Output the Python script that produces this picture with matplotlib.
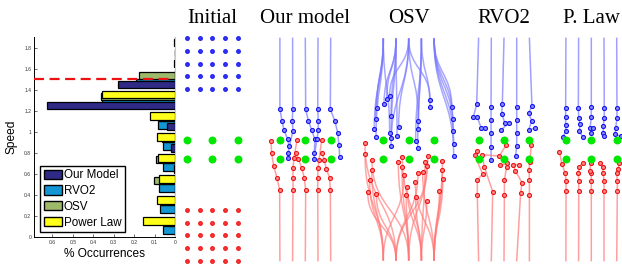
import matplotlib
matplotlib.use("Agg")
import matplotlib.pyplot as plt
from matplotlib.patches import Patch, PathPatch
from matplotlib.path import Path
import numpy as np

# ---------------- histogram data (speed bins, fraction of occurrences) ----------------
speed_bins = [0.1, 0.3, 0.5, 0.7, 0.9, 1.1, 1.3, 1.5, 1.7, 1.9]
our_model = [0.0, 0.0, 0.0, 0.006, 0.02, 0.04, 0.624, 0.278, 0.005, 0.004]
rvo2 = [0.059, 0.072, 0.08, 0.057, 0.06, 0.085, 0.356, 0.19, 0.0, 0.0]
osv = [0.033, 0.07, 0.101, 0.092, 0.066, 0.072, 0.363, 0.175, 0.0, 0.0]
power_law = [0.155, 0.088, 0.078, 0.085, 0.089, 0.12, 0.357, 0.0, 0.0, 0.0]
series_names = ["Our Model", "RVO2", "OSV", "Power Law"]
preferred_speed = 1.5
xtick_vals = [0, 0.1, 0.2, 0.3, 0.4, 0.5, 0.6]
xtick_labels = ["0", "0.1", "0.2", "0.3", "0.4", "0.5", "0.6"]
ytick_vals = [0, 0.2, 0.4, 0.6, 0.8, 1.0, 1.2, 1.4, 1.6, 1.8]
ytick_labels = ["0", "0.2", "0.4", "0.6", "0.8", "1", "1.2", "1.4", "1.6", "1.8"]

# ---------------- crowd scenes (world units, 1 = lane spacing) ----------------
panel_titles = ["Initial", "Our model", "OSV", "RVO2", "P. Law"]
lane_x = [-2, -1, 0, 1, 2]
start_rows = [4.75, 5.75, 6.75, 7.75, 8.75]
start_y = 8.75
obstacle_x = [-2, 0, 2]
obstacle_y = [0.75, -0.75]

# our model: per lane, agents from rear to front
ours_blue_x = [[-2.0, -1.84, -1.68, -1.39, -1.28],
               [-0.99, -1.02, -0.97, -1.36, -1.36],
               [0.03, 0.24, 0.5, 0.76, 0.71],
               [0.98, 1.02, 1.02, 0.92, 0.66],
               [1.97, 2.34, 2.55, 2.65, 2.71]]
ours_blue_y = [[3.19, 2.27, 1.54, 0.80, 0.30],
               [3.19, 2.22, 1.48, -0.25, -0.67],
               [3.17, 2.27, 1.54, 0.80, -0.25],
               [3.17, 2.27, 1.54, 0.80, -0.77],
               [3.17, 2.22, 1.32, 0.38, -0.61]]
ours_red_x = [[-2.02, -2.23, -2.49, -2.65, -2.7],
              [-0.97, -0.97, -0.97, -0.89, -0.65],
              [0.03, -0.08, -0.28, -0.55, -0.73],
              [0.98, 0.98, 1.0, 1.08, 1.29],
              [1.97, 1.92, 1.65, 1.50, 1.31]]
ours_red_y = [[-3.19, -2.24, -1.30, -0.30, 0.65],
              [-3.19, -2.24, -1.46, -0.67, 0.75],
              [-3.19, -2.24, -1.46, -0.72, -0.28],
              [-3.19, -2.24, -1.46, -0.83, 0.75],
              [-3.19, -2.24, -1.51, -0.83, -0.28]]

# RVO2
rvo_blue_x = [[-2.15, -2.42, -2.1, -1.79, -1.47],
              [-1.02, -1.02, -1.02, -1.02, -1.02],
              [-0.13, -0.18, 0.06, 0.37, -0.21],
              [1.0, 1.0, 1.0, 1.0, 0.92],
              [2.2, 1.94, 2.18, 1.94, 2.46]]
rvo_blue_y = [[3.56, 2.54, 2.54, 1.69, 1.69],
              [3.37, 2.32, 1.28, 0.22, -0.83],
              [3.61, 2.80, 2.11, 2.11, 1.54],
              [3.37, 2.32, 1.28, 0.28, -0.51],
              [3.43, 2.85, 2.27, 1.54, 1.69]]
rvo_red_x = [[-2.1, -2.1, -1.68, -2.31, -2.1],
             [-0.89, -1.55, -1.73, -0.37, 0.16],
             [0.03, 0.03, 0.21, 0.26, -0.3],
             [1.31, 1.42, 0.89, 0.74, 1.17],
             [2.0, 2.0, 1.97, 2.02, 2.15]]
rvo_red_y = [[-3.58, -2.40, -1.93, -0.46, -0.09],
             [-3.32, -1.35, -0.41, -0.51, 0.33],
             [-3.58, -2.40, -1.40, -1.09, -1.25],
             [-3.40, -2.61, -1.67, -1.20, -1.20],
             [-3.58, -2.40, -1.61, -1.02, 0.33]]

# P. Law
plaw_blue_x = [[-2.02, -2.02, -2.02, -1.99, -2.25],
               [-1.02, -0.99, -0.89, -0.94, -0.68],
               [0.0, 0.0, -0.1, 0.11, 0.0],
               [1.02, 1.02, 0.94, 0.94, 1.0],
               [2.02, 2.02, 1.92, 1.88, 2.3]]
plaw_blue_y = [[3.29, 2.54, 1.91, 1.43, 1.01],
               [3.27, 2.48, 2.0, 1.43, 1.01],
               [3.31, 2.52, 1.69, 1.69, 1.28],
               [3.29, 2.48, 1.85, 1.28, 1.06],
               [3.29, 2.46, 1.67, 1.2, 1.06]]
plaw_red_x = [[-1.99, -1.99, -2.05, -2.31, -2.51],
              [-0.99, -0.99, -1.02, -0.94, -0.68],
              [0.0, 0.0, 0.0, -0.1, -0.05],
              [1.0, 1.0, 0.94, 0.89, 0.69],
              [2.05, 2.05, 2.0, 2.1, 2.22]]
plaw_red_y = [[-3.29, -2.50, -1.87, -1.14, -0.20],
              [-3.29, -2.50, -1.87, -1.35, -1.04],
              [-3.29, -2.50, -1.87, -1.67, -1.04],
              [-3.29, -2.50, -1.83, -1.35, -1.04],
              [-3.29, -2.50, -1.87, -1.5, -1.09]]

# OSV: free trajectories, final position + lane the agent started in
osv_blue_x = [-2.50, -2.60, -2.71, -2.57, -1.94, -1.73, -1.50, -1.39, -1.50, -1.39, -1.39, -0.79,
              -0.92, 0.76, 0.76, 0.55, 0.71, 1.68, 1.68, 3.39, 3.46, 3.51, 3.54, 3.54]
osv_blue_y = [3.29, 2.40, 1.61, 1.01, 3.58, 3.95, 4.24, 2.66, 1.32, 0.88, 0.28, 1.75,
              1.06, 2.27, 1.59, 0.67, 0.09, 3.90, 3.37, 3.32, 2.38, 1.48, 0.43, -0.51]
osv_blue_lane = [-2, -2, -2, -2, -1, -1, 0, -1, -2, -1, 0, 0,
                 -1, 0, 1, 1, 1, 0, 1, 2, 2, 2, 2, 2]
osv_red_x = [-3.44, -2.91, -3.07, -3.23, -2.55, -2.89, -3.44, -0.50, -0.82, -0.53, -0.37, -0.11,
             -0.19, 0.55, 0.52, 0.73, 1.10, 1.28, 1.50, 1.42, 1.42, 2.65, 2.65, 2.68, 2.41]
osv_red_y = [-0.35, -1.61, -2.40, -3.32, -3.50, -0.83, 0.49, -0.57, -0.96, -1.40, -1.98, -2.98,
             -3.58, -3.76, -2.56, -1.87, -1.77, -0.96, -0.51, -1.30, -4.08, -0.88, -1.61, -2.35, -3.24]
osv_red_lane = [-2, -2, -2, -1, -1, 0, -1, 1, 0, 0, -2, 1,
                0, 1, 2, -1, 2, 1, 0, -1, 1, 2, 2, 2, 2]

# ---------------- styles ----------------
hist_colors = ["#2e2a86", "#1297d4", "#9dba6b", "#ffff1a"]
bar_offsets = [-0.052, -0.036, 0.036, 0.052]
bar_z = [4, 2, 2, 3]
blue_line, red_line = "#7878ff", "#ff7878"
blue_face, blue_edge = "#8a8aff", "#1414ee"
red_face, red_edge = "#ff8a8a", "#ee1414"
green = "#00e800"

plt.rcParams["font.family"] = ["Liberation Sans", "DejaVu Sans"]
fig = plt.figure(figsize=(6.22, 2.69), dpi=100)

# ---------------- histogram ----------------
ax = fig.add_axes([34 / 622, 1 - 237 / 269, 141 / 622, 200 / 269])
for vals, col, off, z in zip([our_model, rvo2, osv, power_law], hist_colors, bar_offsets, bar_z):
    ax.barh(np.array(speed_bins) + off, vals, height=0.072, color=col,
            edgecolor="black", linewidth=0.9, zorder=z)
ax.axhline(preferred_speed, xmax=0.96, color="#ee1111", ls="--", lw=1.6,
           dashes=(4.5, 2.5), zorder=6)
ax.set_xlim(0.69, 0)
ax.set_ylim(0, 1.9)
ax.set_xticks(xtick_vals)
ax.set_xticklabels(xtick_labels)
ax.set_yticks(ytick_vals)
ax.set_yticklabels(ytick_labels)
ax.tick_params(direction="in", length=2, width=0.5, labelsize=3.6, pad=2, colors="#333333")
ax.tick_params(right=False)
ax.spines["top"].set_visible(False)
ax.spines["right"].set_color("#c8c8c8")
ax.spines["right"].set_linewidth(0.8)
for s in ["left", "bottom"]:
    ax.spines[s].set_linewidth(0.7)
ax.set_xlabel("% Occurrences", fontsize=8.6, labelpad=2)
ax.set_ylabel("Speed", fontsize=8.6, labelpad=5)
handles = [Patch(facecolor=c, edgecolor="black", linewidth=1.0) for c in hist_colors]
leg = ax.legend(handles, series_names, loc="lower left", bbox_to_anchor=(40 / 622, 1 - 232 / 269),
                bbox_transform=fig.transFigure, borderaxespad=0, fontsize=8.4,
                handlelength=1.55, handleheight=0.85, handletextpad=0.2, labelspacing=0.32,
                borderpad=0.3, fancybox=False, framealpha=1)
leg.get_frame().set_edgecolor("black")
leg.get_frame().set_linewidth(1.0)
leg.set_zorder(10)

# ---------------- crowd panels ----------------
panel_centers = [212.3, 305.3, 408.7, 504.0, 591.3]
unit = 12.7
half_w, half_h = 3.6, 9.45


def panel_axes(cx, title):
    a = fig.add_axes([(cx - half_w * unit) / 622, (269 - 149.5 - half_h * unit) / 269,
                      2 * half_w * unit / 622, 2 * half_h * unit / 269])
    a.set_xlim(-half_w, half_w)
    a.set_ylim(-half_h, half_h)
    a.axis("off")
    a.set_title(title, fontsize=15, family="Liberation Serif", pad=5)
    return a


def obstacles(a):
    ox, oy = np.meshgrid(obstacle_x, obstacle_y)
    a.plot(ox.ravel(), oy.ravel(), "o", ms=4.7, color=green, mec=green, clip_on=False, zorder=5)


def lanes(a, xs, ys, sy, lc, fc, ec):
    for lx, px, py in zip(lane_x, xs, ys):
        a.plot([lx] + px, [sy] + py, color=lc, lw=1.1, alpha=0.7, clip_on=False, zorder=2)
        a.plot(px, py, "o", ms=2.9, mfc=fc, mec=ec, mew=0.8, clip_on=False, zorder=4)


def free_paths(a, fx, fy, lanes_, sy, lc, fc, ec):
    for x, y, lx in zip(fx, fy, lanes_):
        mid = sy + 0.5 * (y - sy)
        path = Path([(lx, sy), (lx, mid), (x, mid), (x, y)],
                    [Path.MOVETO, Path.CURVE4, Path.CURVE4, Path.CURVE4])
        a.add_patch(PathPatch(path, fc="none", ec=lc, lw=1.1, alpha=0.65, clip_on=False, zorder=2))
    a.plot(fx, fy, "o", ms=2.9, mfc=fc, mec=ec, mew=0.8, clip_on=False, zorder=4)


axes = [panel_axes(c, t) for c, t in zip(panel_centers, panel_titles)]

# initial configuration
gx, gy = np.meshgrid(lane_x, start_rows)
axes[0].plot(gx.ravel(), gy.ravel(), "o", ms=2.5, color="#3a3aff", mec="#2020ee")
axes[0].plot(gx.ravel(), -gy.ravel(), "o", ms=2.5, color="#ff3a3a", mec="#ee2020")
obstacles(axes[0])

lanes(axes[1], ours_blue_x, ours_blue_y, start_y, blue_line, blue_face, blue_edge)
lanes(axes[1], ours_red_x, ours_red_y, -start_y, red_line, red_face, red_edge)
obstacles(axes[1])

free_paths(axes[2], osv_blue_x, osv_blue_y, osv_blue_lane, start_y, blue_line, blue_face, blue_edge)
free_paths(axes[2], osv_red_x, osv_red_y, osv_red_lane, -start_y, red_line, red_face, red_edge)
obstacles(axes[2])

lanes(axes[3], rvo_blue_x, rvo_blue_y, start_y, blue_line, blue_face, blue_edge)
lanes(axes[3], rvo_red_x, rvo_red_y, -start_y, red_line, red_face, red_edge)
obstacles(axes[3])

lanes(axes[4], plaw_blue_x, plaw_blue_y, start_y, blue_line, blue_face, blue_edge)
lanes(axes[4], plaw_red_x, plaw_red_y, -start_y, red_line, red_face, red_edge)
obstacles(axes[4])

fig.savefig("out.png", dpi=100)
